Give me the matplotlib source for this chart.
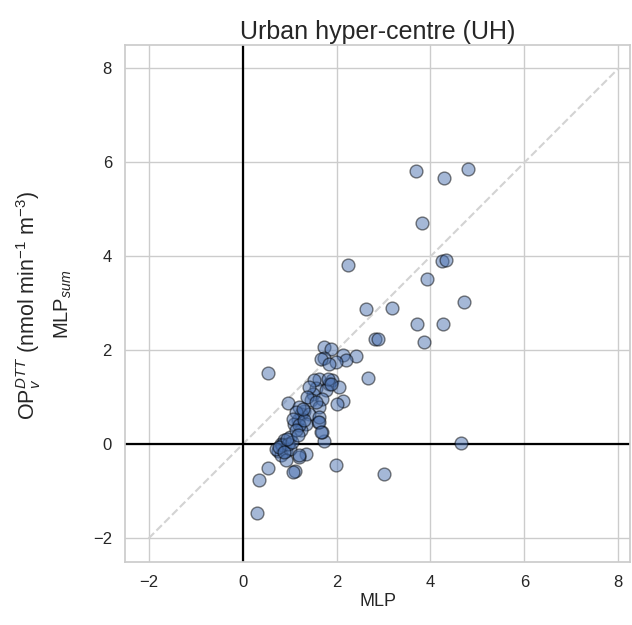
import numpy as np
import matplotlib.pyplot as plt
import seaborn as sns

sns.set_theme(style="whitegrid")
plt.rcParams['font.family'] = ['Liberation Sans', 'DejaVu Sans']
plt.rcParams['mathtext.fontset'] = 'custom'
plt.rcParams['mathtext.rm'] = 'Liberation Sans'
plt.rcParams['mathtext.it'] = 'Liberation Sans:italic'

mlp = [3.69, 4.28, 4.79, 3.81, 2.25, 4.24, 4.34, 3.92, 4.72, 2.63, 3.18, 3.71, 4.26,
       3.86, 2.82, 2.89, 4.64, 3.01, 0.54, 1.99, 0.54, 0.36, 0.30,
       1.35, 1.12, 1.08, 1.21, 1.74, 1.70, 1.61,
       1.74, 1.88, 2.41, 2.13, 2.20, 1.99, 1.74, 1.67, 1.84, 2.68, 1.63, 1.91, 1.84,
       2.06, 1.56, 1.77, 0.96, 2.13, 2.02, 1.49, 1.46, 1.70, 1.63, 1.31, 1.24, 1.42,
       1.63, 1.17, 1.10, 1.35, 1.63, 1.24, 1.67, 1.00, 0.89, 0.82, 0.75, 0.93, 0.82,
       1.00, 1.21, 0.93, 1.53, 1.42, 1.38, 1.21, 1.14, 1.07, 1.21, 1.14, 0.85, 0.71,
       0.96, 0.78, 0.89, 1.31, 1.28, 1.56, 1.81, 1.88, 1.05, 0.95, 1.18]
mlp_sum = [5.82, 5.67, 5.86, 4.71, 3.82, 3.90, 3.92, 3.52, 3.03, 2.88, 2.90, 2.56, 2.56,
           2.17, 2.25, 2.25, 0.04, -0.62, 1.52, -0.44, -0.50, -0.76, -1.45,
           -0.20, -0.56, -0.58, -0.27, 0.07, 0.26, 0.48,
           2.07, 2.04, 1.88, 1.90, 1.79, 1.75, 1.83, 1.81, 1.72, 1.42, 1.40, 1.36, 1.29,
           1.22, 1.19, 1.15, 0.88, 0.92, 0.87, 1.08, 0.94, 0.97, 0.80, 0.72, 0.65, 0.65,
           0.58, 0.51, 0.44, 0.44, 0.48, 0.30, 0.26, 0.16, 0.09, 0.01, -0.13, -0.13, -0.23,
           -0.09, -0.23, -0.34, 1.36, 1.22, 1.01, 0.80, 0.69, 0.55, 0.41, 0.30, -0.02, -0.09,
           0.01, -0.06, -0.16, 0.51, 0.76, 0.90, 1.40, 1.29, 0.05, 0.12, 0.20]

fig = plt.figure(figsize=(6.32, 6.25), dpi=100)
ax = fig.add_axes([0.198, 0.101, 0.799, 0.827])

ax.plot([-2, 8], [-2, 8], ls='--', color='lightgrey', lw=1.5, zorder=1)
ax.axhline(0, color='black', lw=1.6, zorder=2)
ax.axvline(0, color='black', lw=1.6, zorder=2)
ax.scatter(mlp, mlp_sum, s=85, color='#4c72b0', alpha=0.5, edgecolor='black', lw=1, zorder=3)

ax.set_xlim(-2.5, 8.25)
ax.set_ylim(-2.5, 8.5)
ax.set_xticks([-2, 0, 2, 4, 6, 8])
ax.set_yticks([-2, 0, 2, 4, 6, 8])
ax.tick_params(labelsize=12)
ax.set_xlabel('MLP', fontsize=13, labelpad=2)
ax.set_title('Urban hyper-centre (UH)', fontsize=18, pad=4)

# two-line y label
fig.text(29 / 632, 0.512, 'OP$_v^{DTT}$ (nmol min$^{-1}$ m$^{-3}$)', fontsize=15.5,
         rotation=90, ha='center', va='center')
fig.text(63 / 632, 0.514, 'MLP$_{sum}$', fontsize=14.5,
         rotation=90, ha='center', va='center')

plt.savefig('out.png', dpi=100)
